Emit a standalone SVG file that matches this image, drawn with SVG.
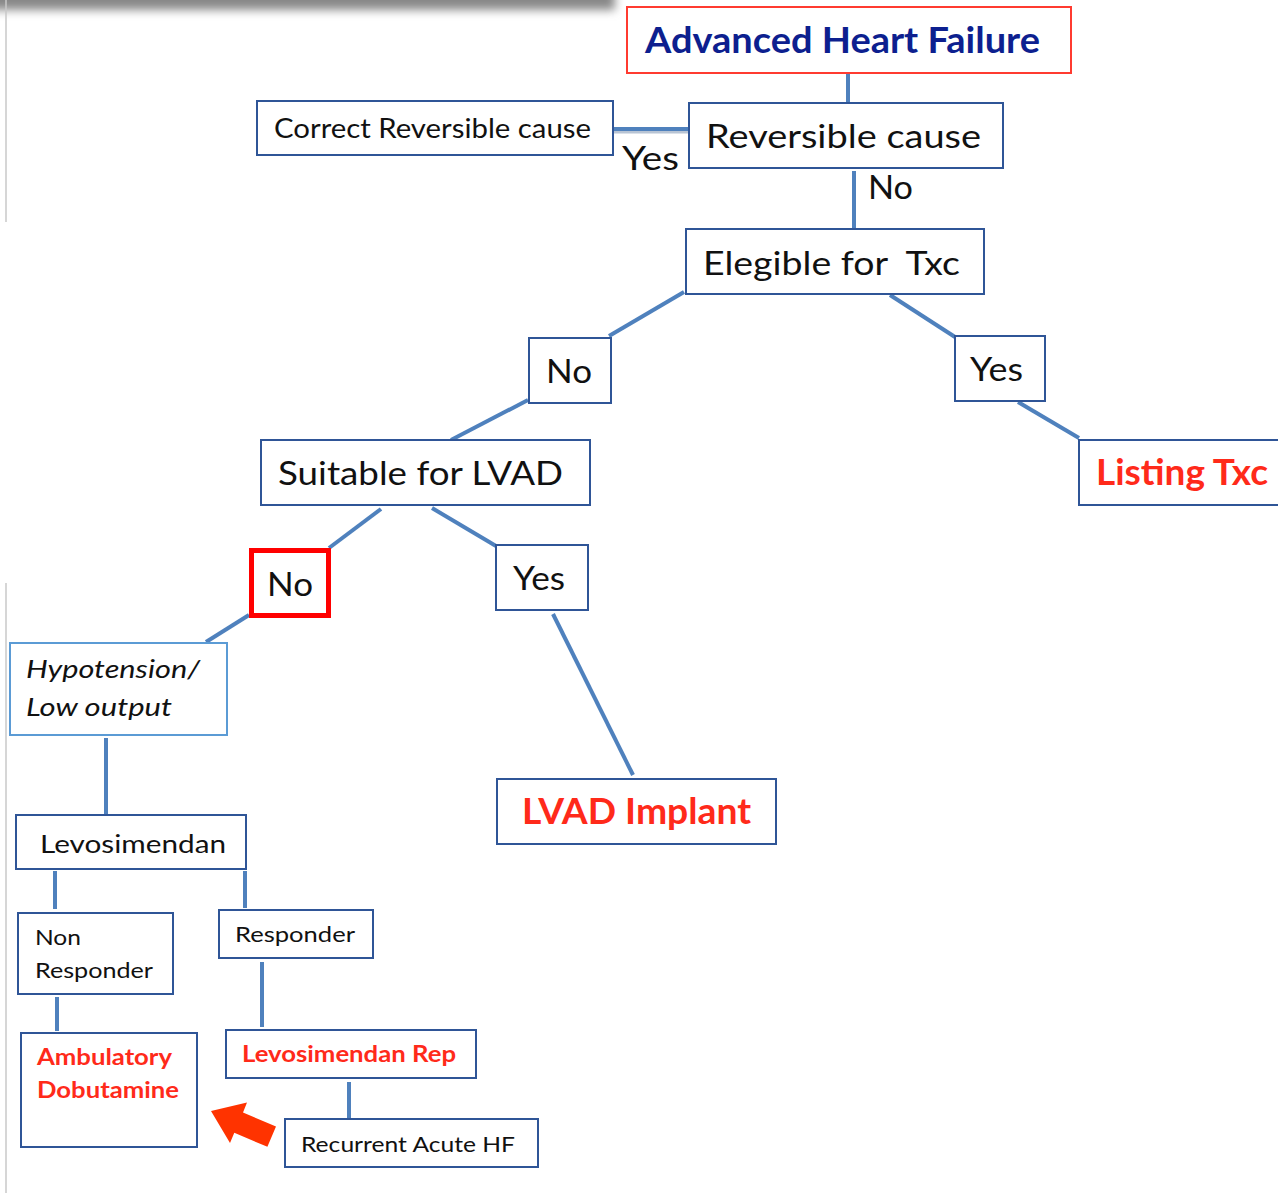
<svg xmlns="http://www.w3.org/2000/svg" width="1278" height="1193" viewBox="0 0 1278 1193">
  <defs>
    <filter id="soft" x="-20%" y="-200%" width="140%" height="500%">
      <feGaussianBlur stdDeviation="5"/>
    </filter>
    <style>
      .box { fill: #ffffff; stroke: #2f5597; stroke-width: 2; }
      .box-light { fill: #ffffff; stroke: #5b9bd5; stroke-width: 2; }
      .box-red { fill: #ffffff; stroke: #ff3b30; stroke-width: 2; }
      .box-alert { fill: #ffffff; stroke: #ff0000; stroke-width: 5; }
      .link { stroke: #4f81bd; stroke-width: 4; fill: none; stroke-linecap: butt; }
      .t { font-family: Lato, "Liberation Sans", sans-serif; fill: #111111; }
      .lbl { font-family: Lato, "Liberation Sans", sans-serif; fill: #111111; font-size: 32px; }
      .red { fill: #ff2a1a; font-weight: bold; }
      .navy { fill: #0d1f8f; font-weight: bold; }
      .it { font-style: italic; }
    </style>
  </defs>

  <rect width="1278" height="1193" fill="#ffffff"/>

  <!-- page edge shading and margin rules -->
  <rect x="-30" y="-20" width="645" height="30" fill="#888888" filter="url(#soft)"/>
  <line x1="6" y1="0" x2="6" y2="222" stroke="#c8c8c8" stroke-width="1.5"/>
  <line x1="6" y1="583" x2="6" y2="1193" stroke="#c8c8c8" stroke-width="1.5"/>

  <!-- connectors -->
  <g id="connectors">
    <line class="link" x1="848" y1="73" x2="848" y2="103"/>
    <line x1="613" y1="132" x2="689" y2="132" stroke="#b8c4d4" stroke-width="3"/>
    <line class="link" x1="613" y1="129" x2="689" y2="129"/>
    <line class="link" x1="854" y1="171" x2="854" y2="228"/>
    <line class="link" x1="684" y1="292" x2="609" y2="336"/>
    <line class="link" x1="528" y1="400" x2="451" y2="440"/>
    <line class="link" x1="890" y1="295" x2="955" y2="337"/>
    <line class="link" x1="1018" y1="402" x2="1079" y2="438"/>
    <line class="link" x1="381" y1="509" x2="329" y2="548"/>
    <line class="link" x1="432" y1="508" x2="496" y2="546"/>
    <line class="link" x1="553" y1="614" x2="633" y2="775"/>
    <line class="link" x1="249" y1="615" x2="206" y2="642"/>
    <line class="link" x1="106" y1="738" x2="106" y2="815"/>
    <line class="link" x1="55" y1="871" x2="55" y2="909"/>
    <line class="link" x1="245" y1="871" x2="245" y2="908"/>
    <line class="link" x1="57" y1="997" x2="57" y2="1031"/>
    <line class="link" x1="262" y1="962" x2="262" y2="1027"/>
    <line class="link" x1="349" y1="1082" x2="349" y2="1118"/>
  </g>

  <!-- edge labels -->
  <text class="lbl" x="622" y="170" textLength="57" lengthAdjust="spacingAndGlyphs">Yes</text>
  <text class="lbl" x="868" y="199" textLength="45" lengthAdjust="spacingAndGlyphs">No</text>

  <g id="advanced-heart-failure">
    <rect class="box-red" x="627" y="7" width="444" height="66"/>
    <text class="t navy" x="645" y="53" font-size="36" textLength="395" lengthAdjust="spacingAndGlyphs">Advanced Heart Failure</text>
  </g>

  <g id="reversible-cause">
    <rect class="box" x="689" y="103" width="314" height="65"/>
    <text class="t" x="706" y="148" font-size="33" textLength="275" lengthAdjust="spacingAndGlyphs">Reversible cause</text>
  </g>

  <g id="correct-reversible-cause">
    <rect class="box" x="257" y="101" width="356" height="54"/>
    <text class="t" x="274" y="138" font-size="26" textLength="317" lengthAdjust="spacingAndGlyphs">Correct Reversible cause</text>
  </g>

  <g id="eligible-txc">
    <rect class="box" x="686" y="229" width="298" height="65"/>
    <text class="t" x="703" y="275" font-size="32" textLength="257" lengthAdjust="spacingAndGlyphs" xml:space="preserve" style="white-space: pre">Elegible for  Txc</text>
  </g>

  <g id="txc-no">
    <rect class="box" x="529" y="338" width="82" height="65"/>
    <text class="t" x="546" y="383" font-size="32" textLength="46" lengthAdjust="spacingAndGlyphs">No</text>
  </g>

  <g id="txc-yes">
    <rect class="box" x="955" y="336" width="90" height="65"/>
    <text class="t" x="970" y="381" font-size="32" textLength="53" lengthAdjust="spacingAndGlyphs">Yes</text>
  </g>

  <g id="listing-txc">
    <rect class="box" x="1079" y="440" width="215" height="65"/>
    <text class="t red" x="1096" y="485" font-size="36" textLength="172" lengthAdjust="spacingAndGlyphs">Listing Txc</text>
  </g>

  <g id="suitable-lvad">
    <rect class="box" x="261" y="440" width="329" height="65"/>
    <text class="t" x="278" y="485" font-size="32" textLength="285" lengthAdjust="spacingAndGlyphs">Suitable for LVAD</text>
  </g>

  <g id="lvad-no">
    <rect class="box-alert" x="251.5" y="550.5" width="77" height="65"/>
    <text class="t" x="267" y="596" font-size="32" textLength="46" lengthAdjust="spacingAndGlyphs">No</text>
  </g>

  <g id="lvad-yes">
    <rect class="box" x="496" y="545" width="92" height="65"/>
    <text class="t" x="513" y="590" font-size="32" textLength="52" lengthAdjust="spacingAndGlyphs">Yes</text>
  </g>

  <g id="lvad-implant">
    <rect class="box" x="497" y="779" width="279" height="65"/>
    <text class="t red" x="522" y="824" font-size="36" textLength="229" lengthAdjust="spacingAndGlyphs">LVAD Implant</text>
  </g>

  <g id="hypotension">
    <rect class="box-light" x="10" y="643" width="217" height="92"/>
    <text class="t it" x="26" y="678" font-size="25" textLength="174" lengthAdjust="spacingAndGlyphs">Hypotension/</text>
    <text class="t it" x="26" y="716" font-size="25" textLength="146" lengthAdjust="spacingAndGlyphs">Low output</text>
  </g>

  <g id="levosimendan">
    <rect class="box" x="16" y="815" width="230" height="54"/>
    <text class="t" x="40" y="853" font-size="25" textLength="186" lengthAdjust="spacingAndGlyphs">Levosimendan</text>
  </g>

  <g id="non-responder">
    <rect class="box" x="18" y="913" width="155" height="81"/>
    <text class="t" x="35" y="945" font-size="22" textLength="46" lengthAdjust="spacingAndGlyphs">Non</text>
    <text class="t" x="35" y="978" font-size="22" textLength="118" lengthAdjust="spacingAndGlyphs">Responder</text>
  </g>

  <g id="responder">
    <rect class="box" x="219" y="910" width="154" height="48"/>
    <text class="t" x="235" y="942" font-size="22" textLength="120" lengthAdjust="spacingAndGlyphs">Responder</text>
  </g>

  <g id="ambulatory-dobutamine">
    <rect class="box" x="21" y="1033" width="176" height="114"/>
    <text class="t red" x="37" y="1065" font-size="22" textLength="135" lengthAdjust="spacingAndGlyphs">Ambulatory</text>
    <text class="t red" x="37" y="1098" font-size="22" textLength="142" lengthAdjust="spacingAndGlyphs">Dobutamine</text>
  </g>

  <g id="levosimendan-rep">
    <rect class="box" x="226" y="1030" width="250" height="48"/>
    <text class="t red" x="242" y="1062" font-size="22" textLength="214" lengthAdjust="spacingAndGlyphs">Levosimendan Rep</text>
  </g>

  <g id="recurrent-acute-hf">
    <rect class="box" x="285" y="1119" width="253" height="48"/>
    <text class="t" x="301" y="1152" font-size="22" textLength="214" lengthAdjust="spacingAndGlyphs">Recurrent Acute HF</text>
  </g>

  <!-- block arrow pointing up-left toward the dobutamine option -->
  <polygon points="211,1111 247,1102.5 243,1112.6 276,1126.6 267.4,1146.8 234.3,1132.8 230,1143" fill="#ff3300"/>
</svg>
